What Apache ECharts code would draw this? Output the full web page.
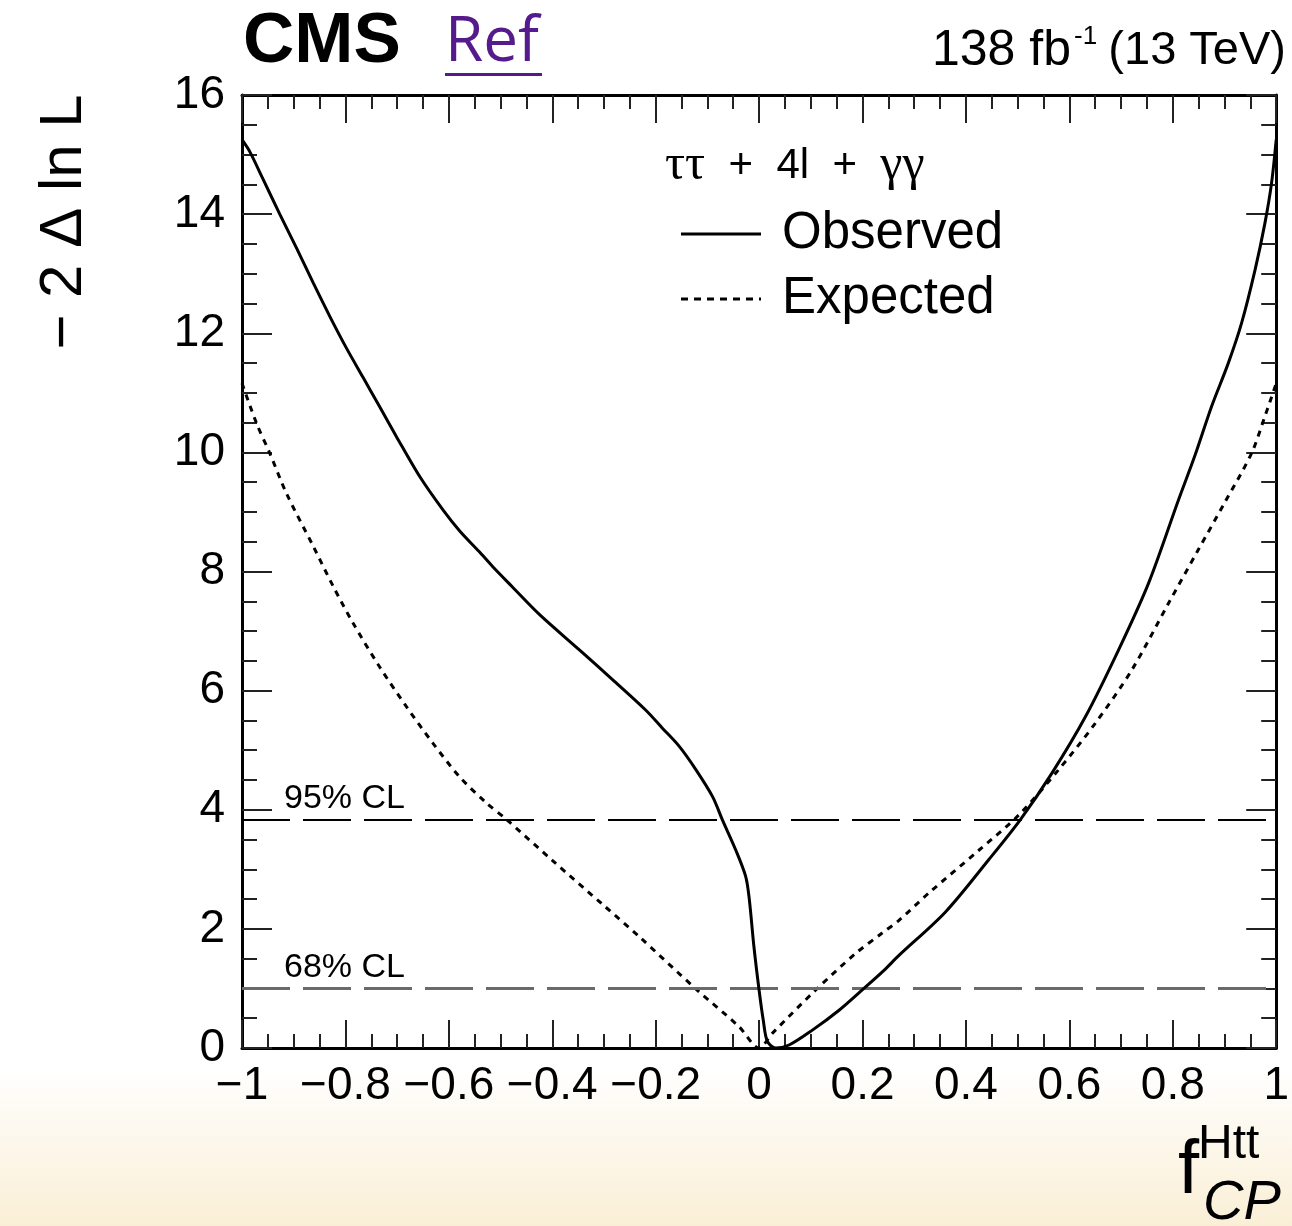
<!DOCTYPE html>
<html>
<head>
<meta charset="utf-8">
<script src="https://cdn.jsdelivr.net/npm/echarts@6/dist/echarts.min.js"></script>
<style>
html,body{margin:0;padding:0;background:#fff;}
#chart{width:1292px;height:1226px;}
</style>
</head>
<body>
<div id="chart"></div>
<script>
// ---- data ----
var obsX = [-1.0, -0.985, -0.96, -0.927, -0.894, -0.862, -0.830, -0.798, -0.766, -0.734, -0.701, -0.656, -0.611, -0.579, -0.541, -0.515, -0.477, -0.425, -0.347, -0.283, -0.219, -0.187, -0.154, -0.122, -0.090, -0.071, -0.045, -0.026, -0.019, -0.010, 0.0, 0.008, 0.016, 0.032, 0.058, 0.103, 0.154, 0.20, 0.241, 0.27, 0.36, 0.444, 0.505, 0.566, 0.631, 0.695, 0.753, 0.811, 0.843, 0.875, 0.907, 0.933, 0.959, 0.978, 0.991, 1.0];
var obsY = [15.25, 15.05, 14.60, 14.00, 13.42, 12.84, 12.28, 11.75, 11.26, 10.77, 10.26, 9.59, 9.03, 8.68, 8.33, 8.08, 7.74, 7.28, 6.68, 6.18, 5.67, 5.37, 5.06, 4.67, 4.22, 3.83, 3.32, 2.88, 2.50, 1.70, 0.97, 0.47, 0.11, 0.0, 0.05, 0.30, 0.63, 0.98, 1.30, 1.55, 2.28, 3.16, 3.83, 4.61, 5.56, 6.68, 7.80, 9.20, 9.95, 10.77, 11.49, 12.17, 13.06, 13.84, 14.52, 15.25];
var expX = [-1.0, -0.972, -0.946, -0.914, -0.862, -0.823, -0.785, -0.734, -0.682, -0.631, -0.579, -0.528, -0.489, -0.40, -0.30, -0.232, -0.122, -0.039, 0.0, 0.026, 0.109, 0.187, 0.238, 0.27, 0.328, 0.425, 0.502, 0.579, 0.65, 0.721, 0.792, 0.849, 0.90, 0.952, 0.978, 1.0];
var expY = [11.16, 10.49, 9.98, 9.31, 8.42, 7.74, 7.13, 6.40, 5.73, 5.12, 4.55, 4.12, 3.84, 3.15, 2.39, 1.87, 0.99, 0.36, 0.0, 0.25, 0.97, 1.59, 1.93, 2.14, 2.60, 3.32, 3.91, 4.67, 5.45, 6.35, 7.47, 8.36, 9.15, 9.98, 10.60, 11.16];
var clValues = [3.84, 1.0];
var clLabels = ['95% CL', '68% CL'];
var seriesNames = ['Observed', 'Expected'];
var xRange = [-1, 1];
var yRange = [0, 16];

var F = '"Liberation Sans", Arial, Helvetica, sans-serif';
function pairs(xs, ys){ return xs.map(function(x,i){ return [x, ys[i]]; }); }
function fmt(v){ var a = Math.round(Math.abs(v)*10)/10; return (v < 0 ? '\u2212' : '') + a; }

var chart = echarts.init(document.getElementById('chart'), null, {renderer:'canvas'});

var tickMajor = {show:true, inside:true, length:28, lineStyle:{color:'#222', width:2}};
var tickMinor = {show:true, splitNumber:4, length:14, lineStyle:{color:'#222', width:2}};
var tickMajorY = {show:true, inside:true, length:30, lineStyle:{color:'#222', width:2}};
var tickMinorY = {show:true, splitNumber:4, length:15, lineStyle:{color:'#222', width:2}};
var axLine = {show:true, onZero:false, lineStyle:{color:'#000', width:3}};

var solidIcon = 'path://M0,0H80V3H0Z';
var dotIcon = 'path://M0,0H7V3H0Z M13,0H20V3H13Z M26,0H33V3H26Z M39,0H46V3H39Z M52,0H59V3H52Z M65,0H72V3H65Z M78,0H80V3H78Z';

var option = {
  animation:false,
  backgroundColor:'transparent',
  grid:{left:242, right:14, top:95, bottom:178, show:true, backgroundColor:'#fff', borderWidth:0},
  xAxis:[
    {type:'value', min:xRange[0], max:xRange[1], interval:0.2, position:'bottom',
     axisLine:axLine, axisTick:tickMajor, minorTick:tickMinor, splitLine:{show:false},
     axisLabel:{show:true, margin:15, fontSize:46, fontFamily:F, color:'#000', formatter:fmt, showMinLabel:true, showMaxLabel:true}},
    {type:'value', min:xRange[0], max:xRange[1], interval:0.2, position:'top',
     axisLine:axLine, axisTick:tickMajor, minorTick:tickMinor, splitLine:{show:false}, axisLabel:{show:false}}
  ],
  yAxis:[
    {type:'value', min:yRange[0], max:yRange[1], interval:2, position:'left',
     axisLine:axLine, axisTick:tickMajorY, minorTick:tickMinorY, splitLine:{show:false},
     axisLabel:{show:true, margin:17, fontSize:46, fontFamily:F, color:'#000'}},
    {type:'value', min:yRange[0], max:yRange[1], interval:2, position:'right',
     axisLine:axLine, axisTick:tickMajorY, minorTick:tickMinorY, splitLine:{show:false}, axisLabel:{show:false}}
  ],
  legend:{
    orient:'vertical', left:676, top:203, itemWidth:80, itemHeight:3, itemGap:13,
    data:[{name:seriesNames[0], icon:solidIcon}, {name:seriesNames[1], icon:dotIcon}],
    itemStyle:{color:'#000', borderWidth:0},
    lineStyle:{width:0},
    textStyle:{fontSize:51, fontFamily:F, color:'#000', padding:[0,0,0,16], lineHeight:52}
  },
  series:[
    {name:seriesNames[0], type:'line', data:pairs(obsX, obsY), symbol:'none', smooth:0.3,
     lineStyle:{color:'#000', width:3, type:'solid'}, itemStyle:{color:'#000'}, z:5,
     markLine:{silent:true, symbol:'none', animation:false,
       data:[
         {yAxis:clValues[0], lineStyle:{color:'#000', width:2, type:[48,13]},
          label:{show:true, formatter:clLabels[0], position:'insideStartTop', distance:4, padding:[0,0,0,38], fontSize:34, fontFamily:F, color:'#000'}},
         {yAxis:clValues[1], lineStyle:{color:'#6a6a6a', width:3, type:[48,13]},
          label:{show:true, formatter:clLabels[1], position:'insideStartTop', distance:4, padding:[0,0,0,38], fontSize:34, fontFamily:F, color:'#000'}}
       ]}},
    {name:seriesNames[1], type:'line', data:pairs(expX, expY), symbol:'none', smooth:0.3,
     lineStyle:{color:'#000', width:3, type:[6,6]}, itemStyle:{color:'#000'}, z:4}
  ],
  graphic:[
    {type:'rect', z:-100, silent:true, shape:{x:0, y:0, width:1292, height:1226},
     style:{fill:{type:'linear', x:0, y:0, x2:0, y2:1, colorStops:[
       {offset:0, color:'#ffffff'}, {offset:0.87, color:'#ffffff'}, {offset:1, color:'#faefd6'}]}}},
    {type:'text', x:243, y:42, style:{text:'CMS', font:'bold 71px ' + F, fill:'#000', align:'left', verticalAlign:'middle'}},
    {type:'text', x:445, y:43, style:{text:'Ref', font:'62px "Open Sans", "Noto Sans", sans-serif', fill:'#551a8b', align:'left', verticalAlign:'middle'}},
    {type:'rect', shape:{x:445, y:73, width:97, height:3}, style:{fill:'#551a8b'}},
    {type:'text', x:1071, y:51, style:{text:'138 fb', font:'50px ' + F, fill:'#000', align:'right', verticalAlign:'middle'}},
    {type:'text', x:1074, y:37, style:{text:'-1', font:'26px ' + F, fill:'#000', align:'left', verticalAlign:'middle'}},
    {type:'text', x:1286, y:51, style:{text:'(13 TeV)', font:'47px ' + F, fill:'#000', align:'right', verticalAlign:'middle'}},
    {type:'text', x:64, y:222, rotation:Math.PI/2, style:{text:'\u2212 2 \u0394 ln L', font:'60px ' + F, fill:'#000', align:'center', verticalAlign:'middle'}},
    {type:'text', x:665, y:166, style:{text:'{g|\u03c4\u03c4}  +  4l  +  {g|\u03b3\u03b3}', font:'42px ' + F, fill:'#000', align:'left', verticalAlign:'middle',
      rich:{g:{font:'50px "Liberation Serif", "DejaVu Serif", serif', fill:'#000'}}}},
    {type:'text', x:1178, y:1172, style:{text:'f', font:'76px ' + F, fill:'#000', align:'left', verticalAlign:'middle'}},
    {type:'text', x:1198, y:1145, style:{text:'Htt', font:'48px ' + F, fill:'#000', align:'left', verticalAlign:'middle'}},
    {type:'text', x:1203, y:1203, style:{text:'CP', font:'italic 56px ' + F, fill:'#000', align:'left', verticalAlign:'middle'}}
  ]
};
chart.setOption(option);
</script>
</body>
</html>
